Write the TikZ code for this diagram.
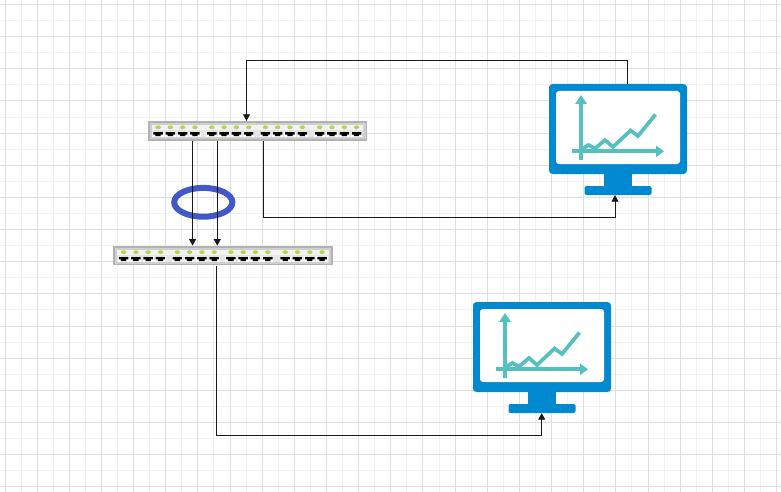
\documentclass[tikz,border=0pt]{standalone}
\usetikzlibrary{arrows.meta}
\definecolor{gridminor}{HTML}{F1F1F1}
\definecolor{gridmajor}{HTML}{DEDEDE}
\definecolor{monblue}{HTML}{0089CF}
\definecolor{chartteal}{HTML}{55C0C0}
\definecolor{ringblue}{HTML}{4358C8}
\definecolor{ledgreen}{HTML}{B0D848}
\tikzset{
  conn/.style={draw=black!90, line width=0.9pt},
  arr/.style={conn, -{Triangle[length=6.5pt,width=7pt]}},
  swbox/.style={draw=none, fill=none, inner sep=0pt, minimum width=219.5pt, minimum height=19.6pt},
  monbox/.style={draw=none, fill=none, inner sep=0pt, minimum width=138pt, minimum height=111pt},
  chartline/.style={draw=chartteal, line width=3.7pt},
}
\newcommand{\switchdraw}[2]{%
  \begin{scope}[shift={(#1,#2)}]
    \fill[black!30] (0,0) rectangle (219.5,19.6);
    \fill[black!19] (1.8,1.8) rectangle (217.7,17.8);
    \fill[black!5] (4,4.2) rectangle (215.5,8.8);
    \fill[black!10] (4,8.8) rectangle (215.5,16);
    \foreach \g in {0,53.7,107.3,161.6}{
      \foreach \i in {0,1,2,3}{
        \fill[ledgreen] ({10.3+\g+\i*12.3},6.3) ellipse (2.7 and 1.9);
        \fill[white] ({4.6+\g+\i*12.3},10.6) rectangle ({15.8+\g+\i*12.3},15.8);
        \fill[black] ({5.5+\g+\i*12.3},11.1) -- ({15+\g+\i*12.3},11.1) -- ({15+\g+\i*12.3},13.6) -- ({12.9+\g+\i*12.3},13.6) -- ({12.9+\g+\i*12.3},15.2) -- ({7.6+\g+\i*12.3},15.2) -- ({7.6+\g+\i*12.3},13.6) -- ({5.5+\g+\i*12.3},13.6) -- cycle;
      }
    }
  \end{scope}}
\newcommand{\monitordraw}[2]{%
  \begin{scope}[shift={(#1,#2)}]
    \fill[monblue, rounded corners=3.5pt] (0,0) rectangle (138,90);
    \fill[white, rounded corners=3pt] (7,7) rectangle (131,80);
    \fill[monblue] (55,88) rectangle (83,103);
    \fill[monblue, rounded corners=2pt] (35.5,102) rectangle (102.5,111);
    \draw[chartline] (32,76) -- (32,17);
    \fill[chartteal] (32,11) -- (38,20) -- (26,20) -- cycle;
    \draw[chartline] (23,67.3) -- (107,67.3);
    \fill[chartteal] (115,67.3) -- (107,61.5) -- (107,73.1) -- cycle;
    \draw[chartline, line join=miter] (33,65) -- (39.5,61) -- (46,64.5) -- (56,56) -- (64,63) -- (81.5,46.5) -- (89,52) -- (106.5,30.5);
  \end{scope}}
\begin{document}
\begin{tikzpicture}[x=1pt,y=-1pt]
  \useasboundingbox (0,0) rectangle (781,492);
  \fill[white] (0,0) rectangle (781,492);
  % grid
  \foreach \k in {0,...,24}{
    \draw[gridminor, line width=1pt] ({5+16.07+\k*32.15},0) -- ({5+16.07+\k*32.15},492);
  }
  \foreach \k in {0,...,15}{
    \draw[gridminor, line width=1pt] (0,{4.5+16.07+\k*32.15}) -- (781,{4.5+16.07+\k*32.15});
  }
  \foreach \k in {0,...,24}{
    \draw[gridmajor, line width=1pt] ({5+\k*32.15},0) -- ({5+\k*32.15},492);
  }
  \foreach \k in {0,...,15}{
    \draw[gridmajor, line width=1pt] (0,{4.5+\k*32.15}) -- (781,{4.5+\k*32.15});
  }
  % devices
  \switchdraw{147.8}{121}
  \switchdraw{113.3}{245.8}
  \monitordraw{549}{84}
  \monitordraw{473}{302}
  \node[swbox] (sw1) at (257.55,130.8) {};
  \node[swbox] (sw2) at (223.05,255.6) {};
  \node[monbox] (mon1) at (618,139.5) {};
  \node[monbox] (mon2) at (542,357.5) {};
  \draw[draw=ringblue, line width=6pt] (203.3,202.3) ellipse (29.1 and 14.4);
  % connectors
  \draw[arr] ([xshift=9.6pt]mon1.north) |- (246.5,60.5) -- ([xshift=-11.05pt]sw1.north);
  \draw[arr] ([xshift=5.5pt]sw1.south) -- ++(0,76.7) -| ([xshift=-3pt]mon1.south);
  \draw[arr] ([xshift=-65pt]sw1.south) -- ([xshift=-30.5pt]sw2.north);
  \draw[arr] ([xshift=-40.3pt]sw1.south) -- ([xshift=-5.8pt]sw2.north);
  \draw[arr] ([xshift=-6.6pt]sw2.south) -- ++(0,170.1) -| ([xshift=-0.3pt]mon2.south);
\end{tikzpicture}
\end{document}
